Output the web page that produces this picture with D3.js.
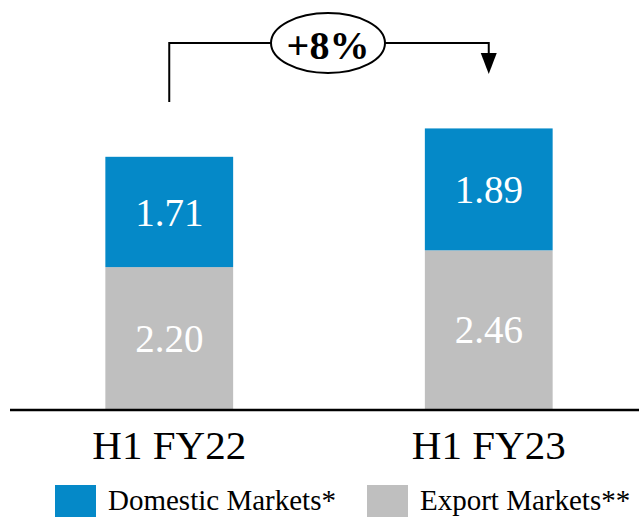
<!DOCTYPE html>
<html>
<head>
<meta charset="utf-8">
<script src="https://cdn.jsdelivr.net/npm/d3@7"></script>
<style>
  body { margin: 0; background: #fff; }
  svg { display: block; font-family: 'Liberation Serif', 'DejaVu Serif', serif; }
</style>
</head>
<body>
<div id="chart"></div>
<script>
var categories = ['H1 FY22', 'H1 FY23'];
var domestic = [1.71, 1.89];
var exportMk = [2.20, 2.46];
var seriesNames = ['Domestic Markets*', 'Export Markets**'];
var growthLabel = '+8%';

var W = 639, H = 517;
var blue = '#0589c8', grey = '#bfbfbf';

var svg = d3.select('#chart').append('svg')
    .attr('width', W).attr('height', H);

var x = d3.scaleBand()
    .domain(categories)
    .range([9.5, 648.5])
    .paddingInner(0.6)
    .paddingOuter(0.3);

var y = d3.scaleLinear()
    .domain([0, 409 / 64.5])
    .range([409, 0]);

var data = categories.map(function(c, i) {
    return { cat: c, exp: exportMk[i], dom: domestic[i] };
});

// Export (bottom)
svg.selectAll('.bar-exp')
    .data(data).enter().append('rect')
    .attr('x', function(d) { return x(d.cat); })
    .attr('width', x.bandwidth())
    .attr('y', function(d) { return y(d.exp); })
    .attr('height', function(d) { return y(0) - y(d.exp); })
    .attr('fill', grey);

// Domestic (top)
svg.selectAll('.bar-dom')
    .data(data).enter().append('rect')
    .attr('x', function(d) { return x(d.cat); })
    .attr('width', x.bandwidth())
    .attr('y', function(d) { return y(d.exp + d.dom); })
    .attr('height', function(d) { return y(d.exp) - y(d.exp + d.dom); })
    .attr('fill', blue);

// Value labels
svg.selectAll('.lbl-exp')
    .data(data).enter().append('text')
    .attr('x', function(d) { return x(d.cat) + x.bandwidth() / 2; })
    .attr('y', function(d) { return (y(0) + y(d.exp)) / 2; })
    .attr('dy', '0.35em')
    .attr('text-anchor', 'middle')
    .attr('font-size', 39)
    .attr('fill', '#fff')
    .text(function(d) { return d.exp.toFixed(2); });

svg.selectAll('.lbl-dom')
    .data(data).enter().append('text')
    .attr('x', function(d) { return x(d.cat) + x.bandwidth() / 2; })
    .attr('y', function(d) { return (y(d.exp) + y(d.exp + d.dom)) / 2; })
    .attr('dy', '0.35em')
    .attr('text-anchor', 'middle')
    .attr('font-size', 39)
    .attr('fill', '#fff')
    .text(function(d) { return d.dom.toFixed(2); });

// Baseline
svg.append('line')
    .attr('x1', 10).attr('x2', W)
    .attr('y1', y(0) + 1).attr('y2', y(0) + 1)
    .attr('stroke', '#000').attr('stroke-width', 2.5);

// Category labels
svg.selectAll('.cat')
    .data(categories).enter().append('text')
    .attr('x', function(d) { return x(d) + x.bandwidth() / 2; })
    .attr('y', 459)
    .attr('text-anchor', 'middle')
    .attr('font-size', 41)
    .attr('fill', '#000')
    .text(function(d) { return d; });

// Growth arrow
var cx1 = x(categories[0]) + x.bandwidth() / 2;
var cx2 = x(categories[1]) + x.bandwidth() / 2;
var topY = 43, ex = 328, erx = 57, ery = 30;

svg.append('path')
    .attr('d', 'M' + cx1 + ',102 V' + topY + ' H' + (ex - erx))
    .attr('fill', 'none').attr('stroke', '#000').attr('stroke-width', 2);
svg.append('path')
    .attr('d', 'M' + (ex + erx) + ',' + topY + ' H' + cx2 + ' V57')
    .attr('fill', 'none').attr('stroke', '#000').attr('stroke-width', 2);
svg.append('path')
    .attr('d', 'M' + (cx2 - 8) + ',53 L' + (cx2 + 8) + ',53 L' + cx2 + ',74 Z')
    .attr('fill', '#000');

svg.append('ellipse')
    .attr('cx', ex).attr('cy', topY)
    .attr('rx', erx).attr('ry', ery)
    .attr('fill', '#fff').attr('stroke', '#000').attr('stroke-width', 2);
svg.append('text')
    .attr('x', ex).attr('y', topY + 2)
    .attr('dy', '0.35em')
    .attr('text-anchor', 'middle')
    .attr('font-size', 40)
    .attr('font-weight', 'bold')
    .text(growthLabel);

// Legend
var legend = [
    { name: seriesNames[0], color: blue, x: 55 },
    { name: seriesNames[1], color: grey, x: 367 }
];
var lg = svg.selectAll('.legend')
    .data(legend).enter().append('g')
    .attr('transform', function(d) { return 'translate(' + d.x + ',485)'; });
lg.append('rect')
    .attr('width', 41).attr('height', 32)
    .attr('fill', function(d) { return d.color; });
lg.append('text')
    .attr('x', 53).attr('y', 25)
    .attr('font-size', 29)
    .attr('fill', '#000')
    .text(function(d) { return d.name; });
</script>
</body>
</html>
